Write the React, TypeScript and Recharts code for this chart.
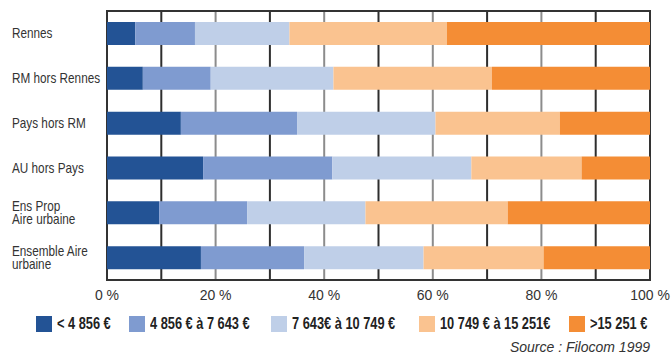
import React from "react";
import { BarChart, Bar, XAxis, YAxis, CartesianGrid, Legend, ReferenceArea } from "recharts";

const categories = [
  "Rennes",
  "RM hors Rennes",
  "Pays hors RM",
  "AU hors Pays",
  "Ens Prop\nAire urbaine",
  "Ensemble Aire\nurbaine",
];
const seriesNames = [
  "< 4 856 €",
  "4 856 € à 7 643 €",
  "7 643€ à 10 749 €",
  "10 749 € à 15 251€",
  ">15 251 €",
];
const seriesColors = ["#235395", "#7f9bd0", "#bfcfe8", "#fac390", "#f48d35"];
const under4856 = [5.2, 6.6, 13.6, 17.7, 9.6, 17.3];
const from4856 = [11.0, 12.5, 21.4, 23.8, 16.2, 19.0];
const from7643 = [17.4, 22.6, 25.5, 25.6, 21.8, 22.0];
const from10749 = [29.0, 29.2, 22.9, 20.3, 26.2, 22.1];
const over15251 = [37.4, 29.1, 16.6, 12.6, 26.2, 19.6];
const xTicks = [0, 20, 40, 60, 80, 100];
const oddGrid = [10, 30, 50, 70, 90];
const evenGrid = [20, 40, 60, 80];

// legend item left edges (layout only)
const legendLefts = [36, 129, 271, 419, 569];

const series = [under4856, from4856, from7643, from10749, over15251];
const data = categories.map((name, i) => {
  const row: Record<string, string | number> = { name };
  series.forEach((s, k) => {
    row["s" + k] = s[i];
  });
  return row;
});

const font = '"Liberation Sans", Arial, sans-serif';

function CategoryTick({ y, payload }: any) {
  const lines = String(payload.value).split("\n");
  const start = -((lines.length - 1) * 13) / 2;
  return (
    <text
      transform={`translate(12,${y}) scale(0.84,1)`}
      x={0}
      y={0}
      fill="#333"
      fontSize={14}
      fontFamily={font}
      textAnchor="start"
    >
      {lines.map((l, i) => (
        <tspan key={i} x={0} dy={i === 0 ? start + 5 : 13}>
          {l}
        </tspan>
      ))}
    </text>
  );
}

function LegendBox() {
  return (
    <div style={{ position: "relative", width: 671, height: 49 }}>
      {seriesNames.map((n, i) => (
        <div
          key={n}
          style={{
            position: "absolute",
            left: legendLefts[i],
            top: 11,
            height: 16,
            display: "flex",
            alignItems: "center",
            whiteSpace: "nowrap",
          }}
        >
          <span style={{ width: 16, height: 16, background: seriesColors[i], display: "inline-block" }} />
          <span
            style={{
              display: "inline-block",
              marginLeft: 5,
              fontFamily: font,
              fontWeight: "bold",
              fontSize: 16,
              color: "#222",
              transform: "scaleX(0.8)",
              transformOrigin: "left center",
            }}
          >
            {n}
          </span>
        </div>
      ))}
      <div
        style={{
          position: "absolute",
          right: 21,
          top: 34,
          fontFamily: font,
          fontStyle: "italic",
          fontSize: 14,
          color: "#333",
        }}
      >
        Source : Filocom 1999
      </div>
    </div>
  );
}

export default function App() {
  return (
    <div style={{ position: "absolute", left: 0, top: 0, background: "#fff" }}>
      <BarChart
        width={671}
        height={354}
        data={data}
        layout="vertical"
        margin={{ top: 11, right: 21, bottom: 0, left: 0 }}
        barSize={23}
      >
        <CartesianGrid horizontal={false} verticalValues={oddGrid} stroke="#2e2e2e" strokeWidth={2} />
        <CartesianGrid horizontal={false} verticalValues={evenGrid} stroke="#8c8c8c" strokeWidth={2} />
        <XAxis
          type="number"
          domain={[0, 100]}
          ticks={xTicks}
          tickFormatter={(v) => `${v} %`}
          tickLine={false}
          axisLine={false}
          height={25}
          tickMargin={4}
          tick={{ fill: "#333", fontSize: 14, fontFamily: font }}
        />
        <YAxis
          type="category"
          dataKey="name"
          width={107}
          tickLine={false}
          axisLine={false}
          tick={<CategoryTick />}
          interval={0}
        />
        {seriesNames.map((n, k) => (
          <Bar key={n} dataKey={"s" + k} name={n} stackId="a" fill={seriesColors[k]} isAnimationActive={false} />
        ))}
        <ReferenceArea x1={0} x2={100} fill="none" stroke="#333" strokeWidth={2} ifOverflow="extendDomain" />
        <Legend
          verticalAlign="bottom"
          content={<LegendBox />}
          wrapperStyle={{ left: 0, width: 671, height: 49 }}
        />
      </BarChart>
    </div>
  );
}
